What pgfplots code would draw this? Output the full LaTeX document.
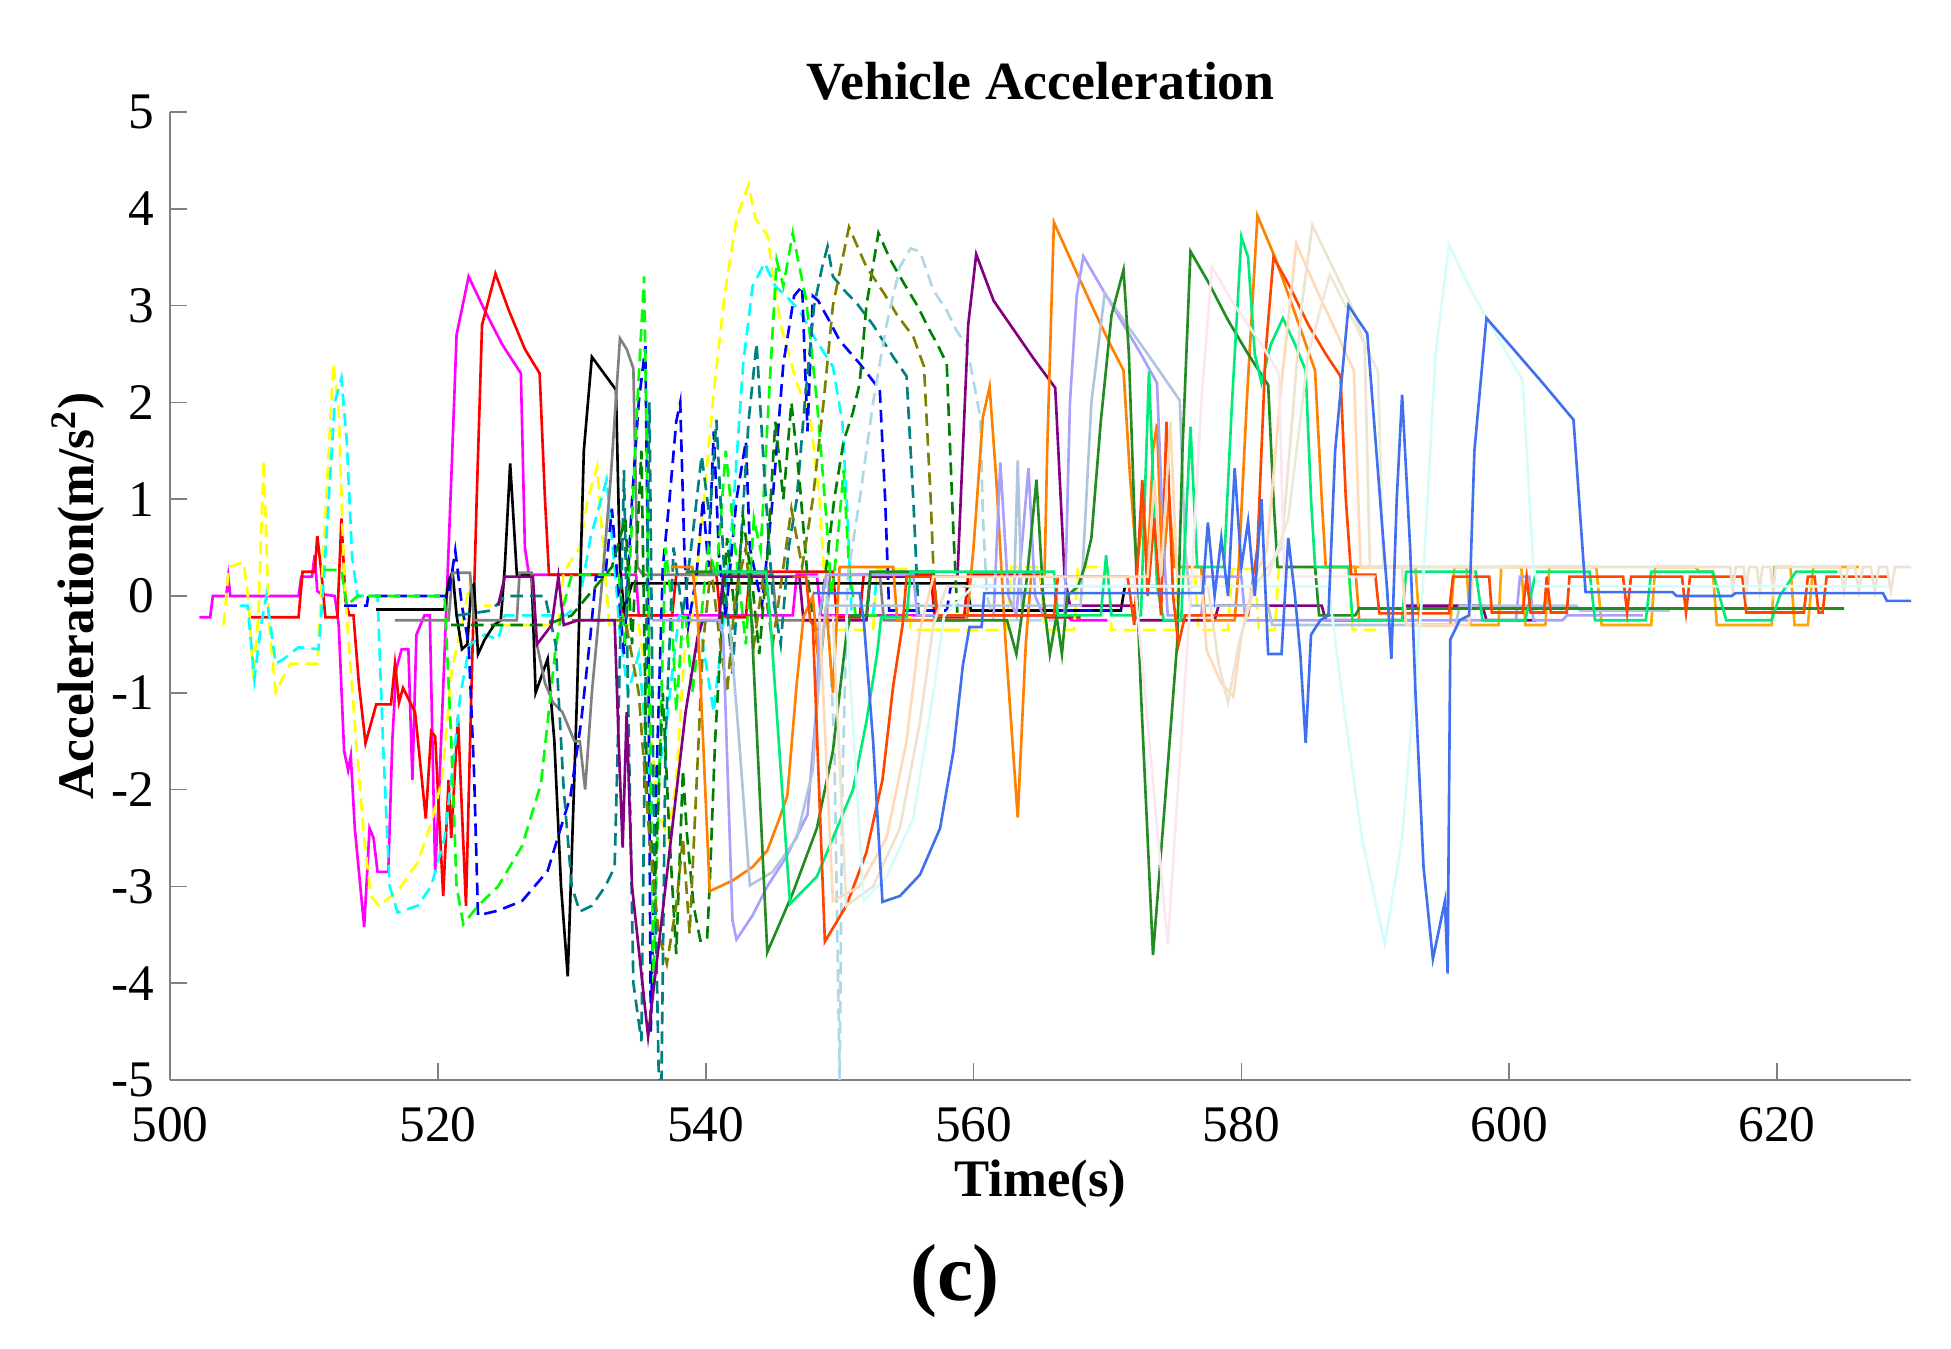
\documentclass[border=0pt]{standalone}
\usepackage{fontspec}
\setmainfont{Liberation Serif}
\usepackage{pgfplots}
\pgfplotsset{compat=1.18}
\definecolor{mmag}{RGB}{255,0,255}
\definecolor{mcyan}{RGB}{0,255,255}
\definecolor{myel}{RGB}{255,255,0}
\definecolor{mred}{RGB}{255,0,0}
\definecolor{mblue}{RGB}{0,0,255}
\definecolor{mgreen}{RGB}{0,255,0}
\definecolor{myorange}{RGB}{255,128,0}
\definecolor{lorange}{RGB}{255,165,0}
\definecolor{lav}{RGB}{168,160,250}
\definecolor{lsb}{RGB}{176,196,222}
\definecolor{forest}{RGB}{34,139,34}
\definecolor{spring}{RGB}{0,235,120}
\definecolor{ored}{RGB}{255,69,0}
\definecolor{royal}{RGB}{64,112,240}
\definecolor{peach}{RGB}{255,218,185}
\definecolor{awhite}{RGB}{236,228,208}
\definecolor{lcyan}{RGB}{215,252,252}
\definecolor{lblush}{RGB}{250,232,238}
\definecolor{eggshell}{RGB}{236,232,218}
\definecolor{teal2}{RGB}{0,128,128}
\definecolor{olive2}{RGB}{128,128,0}
\definecolor{dgreen}{RGB}{0,128,0}
\definecolor{lblue}{RGB}{173,216,230}
\definecolor{purp}{RGB}{128,0,128}
\definecolor{gray2}{RGB}{128,128,128}
\tikzset{sl/.style={line width=0.75pt},dl/.style={line width=0.75pt,dash pattern=on 3.6pt off 2pt}}
\begin{document}
\begin{tikzpicture}
\useasboundingbox (-17mm,-26.9mm) rectangle (178.1mm,108mm);
\begin{axis}[
  at={(0,0)}, anchor=south west,
  scale only axis, width=174.1mm, height=96.8mm,
  xmin=500, xmax=630, ymin=-5, ymax=5,
  axis x line*=bottom, axis y line*=left,
  xtick={500,520,540,560,580,600,620},
  ytick={-5,-4,-3,-2,-1,0,1,2,3,4,5},
  tick align=inside,
  major tick length=1.7mm,
  axis line style={draw=gray, line width=0.7pt},
  every tick/.style={gray, line width=0.5pt},
  /pgf/number format/assume math mode=true,
  ticklabel style={font=\fontsize{14.6}{15}\selectfont},
  xticklabel style={anchor=base, yshift=-6.2mm},
  yticklabel style={anchor=east, inner sep=0pt, xshift=-1.5mm},
  every axis title shift=0pt,
  title={Vehicle Acceleration},
  title style={font=\fontsize{15.3}{16}\selectfont\bfseries, at={(axis description cs:0.5,1)}, anchor=base, yshift=1.25mm},
  xlabel={Time(s)},
  xlabel style={font=\fontsize{15}{16}\selectfont\bfseries, at={(axis description cs:0.5,0)}, anchor=base, yshift=-11.7mm},
  ylabel={Acceleration(m/s\textsuperscript{2})},
  ylabel style={font=\fontsize{14.6}{16}\selectfont\bfseries, at={([xshift=-9.2mm]axis description cs:0,0.5)}, anchor=center},
  no markers,
]
% magenta
\addplot[sl,mmag] coordinates {(502.2,-0.22)(503.0,-0.22)(503.2,0)(504.2,0)(504.35,0.2)(504.5,0)(509.6,0)(509.8,0.2)(510.6,0.2)(510.8,0.42)(511.0,0.05)(511.3,0.02)(512.3,0)(512.6,-0.3)(513.0,-1.6)(513.3,-1.8)(513.5,-1.65)(513.8,-2.4)(514.5,-3.42)(514.9,-2.4)(515.2,-2.5)(515.5,-2.85)(516.3,-2.85)(516.6,-1.5)(516.9,-0.75)(517.3,-0.55)(517.8,-0.55)(518.1,-1.9)(518.4,-0.4)(519.0,-0.2)(519.4,-0.2)(519.8,-2.85)(520.1,-2.0)(520.5,-0.6)(521.0,1.2)(521.4,2.7)(522.3,3.3)(523.5,2.95)(524.8,2.6)(526.2,2.3)(526.5,0.5)(526.8,0.22)(534.8,0.22)(535.0,-0.2)(546.5,-0.2)(546.8,0.22)(548.3,0.22)(548.6,-0.2)(567.0,-0.2)(567.3,-0.25)(570,-0.25)};
% red
\addplot[sl,mred] coordinates {(506.0,-0.22)(509.6,-0.22)(509.9,0.25)(510.8,0.25)(511.0,0.62)(511.3,0.25)(511.6,-0.22)(512.5,-0.22)(512.8,0.8)(513.1,-0.05)(513.4,-0.2)(513.7,-0.2)(514.1,-0.9)(514.6,-1.52)(515.4,-1.12)(516.5,-1.12)(516.8,-0.7)(517.1,-1.1)(517.4,-0.95)(518.3,-1.2)(519.1,-2.3)(519.5,-1.4)(519.8,-1.45)(520.4,-3.1)(520.8,-1.9)(521.0,-2.5)(521.5,-1.25)(522.1,-3.2)(522.5,-1.0)(522.9,1.0)(523.3,2.8)(524.3,3.33)(525.3,2.95)(526.5,2.55)(527.6,2.3)(528.0,1.0)(528.3,0.22)(533.6,0.22)(533.9,-0.2)(537.5,-0.2)(537.8,0.22)(540.8,0.22)(541.1,-0.22)(543.0,-0.22)(543.3,0.25)(549.5,0.25)(549.8,-0.22)(551.5,-0.22)(551.8,0.22)(556.8,0.22)(557.1,-0.22)(559.3,-0.22)(559.6,0.22)(565.0,0.22)(565.3,-0.22)(568,-0.22)};
% yellow dashed A
\addplot[dl,myel] coordinates {(504.0,-0.3)(504.4,0.3)(505.5,0.35)(505.9,-0.1)(506.2,-0.85)(506.6,-0.2)(507.0,1.4)(507.4,-0.3)(507.9,-1.0)(508.4,-0.85)(509.0,-0.7)(511.0,-0.7)(511.4,0.3)(512.2,2.4)(512.6,1.9)(513.0,0.2)(513.3,-0.4)(513.9,-1.5)(514.5,-2.5)(515.0,-3.1)(515.6,-3.2)(517.0,-3.05)(518.5,-2.75)(519.5,-2.35)(520.3,-1.9)(520.7,-1.3)(521.0,-0.8)(521.3,-0.6)(521.8,-0.3)(522.4,0.15)(522.6,-0.1)(524.0,-0.1)};
% yellow dashed B
\addplot[dl,myel] coordinates {(524.5,-0.3)(529.0,-0.3)(529.4,0.25)(530.6,0.5)(531.2,1.0)(531.9,1.34)(532.4,0.4)(532.8,-0.3)(535.0,-0.3)(535.6,-0.9)(536.4,-2.2)(537.2,-2.5)(537.8,-1.9)(538.4,-0.6)(539.0,-0.2)(539.8,0.9)(540.6,2.1)(541.4,3.1)(542.3,3.9)(543.2,4.25)(543.7,3.9)(544.6,3.73)(545.6,2.8)(546.8,2.2)(547.8,1.85)(548.5,1.0)(548.9,0.1)(549.2,-0.35)(552.5,-0.35)(552.8,0.28)(555.0,0.28)(555.3,-0.35)(559.0,-0.35)};
% yellow dashed C
\addplot[dl,myel] coordinates {(556.5,-0.35)(562.5,-0.35)(562.8,0.3)(565.0,0.3)(565.3,-0.35)(567.5,-0.35)(567.8,0.3)(570,0.3)(570.3,-0.35)(575.0,-0.35)(575.3,0.3)(576.5,0.3)(576.8,-0.35)(579.0,-0.35)(579.3,0.28)(581,0.28)(581.3,-0.35)(582.5,-0.35)(582.8,0.3)(588,0.3)(588.3,-0.35)(590.2,-0.35)};
% cyan dashed A
\addplot[dl,mcyan] coordinates {(505.2,-0.1)(505.8,-0.1)(506.3,-0.86)(506.8,-0.3)(507.2,0.0)(507.5,-0.3)(507.9,-0.7)(508.5,-0.65)(509.6,-0.53)(511.1,-0.55)(511.5,0.2)(512.3,2.0)(512.8,2.25)(513.2,1.6)(513.6,0.4)(514.0,0.0)(515.5,0.0)(515.9,-1.5)(516.4,-3.0)(517.0,-3.27)(518.5,-3.2)(519.5,-3.0)(520.5,-2.5)(521.0,-1.9)(521.7,-1.0)(522.4,-0.5)(523.5,-0.4)(524.5,-0.45)(525.0,-0.2)(529.5,-0.2)(530.5,-0.1)(531.4,0.6)(532.6,1.2)(533.2,0.3)(533.6,-0.4)(534.2,-1.0)(535.0,-0.6)(536.0,-2.2)(537.0,-1.4)(538.0,-0.2)};
% cyan dashed B
\addplot[dl,mcyan] coordinates {(538.0,-0.2)(539.5,-0.25)(540.6,-1.2)(541.3,-0.3)(542.0,0.8)(542.8,2.4)(543.5,3.2)(544.4,3.44)(545.2,3.2)(546.0,3.1)(547.0,2.95)(548.2,2.65)(549.5,2.37)(550.2,1.8)(550.6,0.8)(550.9,-0.2)(552.5,-0.2)(552.8,0.25)(556,0.25)};
% black
\addplot[sl,black] coordinates {(515.4,-0.14)(520.5,-0.14)(520.8,0.15)(521.1,0.25)(521.4,-0.2)(521.8,-0.55)(522.2,-0.5)(522.5,0.1)(522.7,0.12)(523.0,-0.6)(523.5,-0.45)(524.2,-0.3)(524.7,-0.25)(525.0,0.3)(525.4,1.37)(525.9,0.22)(527.0,0.22)(527.3,-1.0)(528.2,-0.65)(528.7,-1.5)(529.2,-3.0)(529.7,-3.93)(530.4,-1.0)(530.9,1.5)(531.5,2.47)(532.4,2.3)(533.3,2.13)(533.6,0.3)(533.9,-0.15)(534.5,0.13)(559.5,0.13)(559.8,-0.15)(571.0,-0.15)(571.3,0.1)(575,0.1)};
% gray
\addplot[sl,gray2] coordinates {(516.8,-0.25)(520.8,-0.25)(521.1,0.24)(522.4,0.24)(522.7,-0.25)(525.9,-0.25)(526.1,0.24)(527.0,0.24)(527.4,-0.5)(528.0,-0.9)(528.6,-1.1)(529.3,-1.2)(530.2,-1.5)(530.6,-1.5)(531.0,-2.0)(531.5,-1.0)(532.3,0.2)(532.9,1.2)(533.6,2.66)(534.1,2.55)(534.6,2.35)(534.9,0.3)(535.3,0.22)(545.0,0.22)(545.3,-0.25)(549,-0.25)(549.3,0.22)(553,0.22)(553.3,-0.25)(556,-0.25)};
% blue dashed A
\addplot[dl,mblue] coordinates {(513.0,-0.1)(514.7,-0.1)(514.8,0.0)(520.8,0.0)(521.3,0.47)(521.8,-0.1)(522.3,-0.5)(522.7,-1.8)(523.0,-3.3)(524.5,-3.25)(526.3,-3.15)(528.2,-2.84)(529.9,-2.07)(530.7,-1.3)(531.4,-0.4)(531.8,0.2)(532.5,0.2)(533.0,0.9)(533.4,0.2)(533.9,-0.6)(534.5,1.0)(535.0,2.0)(535.5,2.58)(535.7,0.0)(535.9,-4.5)(536.3,-2.0)(536.8,0.3)(537.3,1.0)(537.8,1.8)(538.1,2.0)(538.4,0.5)(538.7,-0.3)(539.3,0.2)(539.8,1.0)(540.2,0.3)(540.6,1.7)(541.0,0.4)(541.5,-0.2)};
% blue dashed B
\addplot[dl,mblue] coordinates {(541.5,-0.2)(542.3,1.0)(543.0,1.6)(543.3,0.5)(544.2,-0.1)(545.0,1.0)(545.8,2.4)(546.6,3.1)(547.2,3.2)(547.6,1.7)(548.0,3.1)(548.4,3.05)(549.2,2.85)(550.0,2.64)(551.5,2.4)(553.0,2.13)(553.4,1.0)(553.7,-0.15)(558,-0.15)(558.3,0.1)(566,0.1)(566.3,-0.15)(571,-0.15)};
% green dashed A
\addplot[dl,mgreen] coordinates {(511.5,0.27)(512.8,0.27)(513.2,-0.1)(514.0,0.0)(520.5,0.0)(521.0,-1.5)(521.4,-3.0)(521.9,-3.39)(523.0,-3.2)(524.5,-3.0)(526.3,-2.58)(527.7,-1.94)(528.2,-1.3)(528.8,-0.53)(529.3,-0.14)(530,0.22)(533.5,0.22)(534.0,-0.5)(534.4,0.5)(534.9,2.0)(535.4,3.3)(535.6,1.5)(535.8,-1.0)(536.1,-4.0)(536.5,-2.0)(537.0,0.5)(537.4,0.0)(537.8,-1.2)(538.3,-0.2)};
% green dashed B
\addplot[dl,mgreen] coordinates {(538.5,-0.2)(539.0,-1.0)(539.6,-0.3)(540.2,0.5)(540.8,0.2)(541.5,1.5)(542.2,0.5)(543.0,-0.5)(543.6,0.8)(544.1,0.47)(544.7,2.0)(545.3,3.47)(545.8,3.2)(546.5,3.75)(547.0,3.4)(547.5,3.06)(548.3,2.02)(549.0,0.82)(549.4,0.0)(549.8,0.5)(550.3,1.3)(550.7,0.3)(551.2,-0.2)(553.5,-0.2)};
% teal dashed
\addplot[dl,teal2] coordinates {(521.5,-0.2)(524.0,-0.15)(525.0,0.0)(528.0,0.0)(528.8,-0.5)(529.4,-2.0)(530.0,-3.0)(530.6,-3.26)(531.5,-3.2)(532.5,-3.0)(533.2,-2.8)(533.5,-1.2)(533.9,1.3)(534.2,-1.0)(534.6,-4.0)(535.2,-4.6)(535.5,-1.0)(535.8,2.0)(536.1,-2.0)(536.5,-5.0)(536.7,-5.0)(537.0,-1.5)(537.6,0.5)(538.3,-0.2)(539.0,0.6)(539.7,1.45)(540.3,0.8)(540.8,1.82)(541.4,0.2)(542.0,-0.8)(542.6,0.5)(543.2,1.8)(543.8,2.61)(544.4,1.2)(545.0,0.0)(545.6,-0.5)(546.2,0.5)(546.8,1.0)(547.4,2.0)(548.1,3.0)(548.7,3.4)(549.1,3.61)(549.5,3.3)(550.4,3.15)(551.3,3.02)(552.5,2.8)(554.0,2.47)(555.0,2.27)(555.5,1.0)(555.9,-0.2)(558,-0.2)};
% dark green dashed
\addplot[dl,dgreen] coordinates {(521.0,-0.3)(528.0,-0.3)(530,-0.2)(533,0.3)(534.0,0.8)(534.5,-0.5)(535.2,1.5)(535.6,-2.0)(536.2,-3.0)(536.8,-1.0)(537.3,-2.5)(537.8,-3.7)(538.3,-1.8)(538.6,-2.46)(539.1,-3.2)(539.6,-3.56)(540.1,-3.56)(540.3,-2.98)(540.7,-1.5)(541.2,-0.3)(541.6,0.6)(542.2,-0.2)(542.8,0.8)(543.5,0.1)(544.0,-0.6)(544.6,0.4)(545.2,1.8)(545.8,1.0)(546.4,2.0)(547.0,1.2)(547.6,0.2)(548.3,-0.5)(549.0,0.3)(549.6,1.0)(550.3,1.6)(551.0,1.9)(551.5,2.2)(552.0,3.0)(552.9,3.75)(553.8,3.47)(554.8,3.23)(555.8,3.0)(556.7,2.75)(557.3,2.6)(558.0,2.4)(558.5,0.65)(558.8,-0.2)(560,-0.2)};
% olive dashed
\addplot[dl,olive2] coordinates {(530,-0.25)(534,-0.25)(535.0,-1.0)(535.8,-2.5)(536.5,-3.5)(537.1,-3.8)(537.8,-3.2)(538.3,-2.5)(538.8,-3.49)(539.3,-2.0)(539.8,-0.5)(540.4,0.3)(541.0,-0.4)(541.6,-1.0)(542.2,0.0)(543.0,0.5)(543.6,-0.5)(544.3,0.2)(545.0,-0.5)(545.6,0.1)(546.4,0.9)(547.2,0.3)(548.0,1.0)(548.8,2.0)(549.5,3.0)(550.7,3.81)(552.0,3.4)(553.3,3.13)(554.3,2.9)(555.5,2.68)(556.3,2.37)(556.8,1.0)(557.0,0.3)(557.3,-0.25)(559,-0.25)};
% light blue dashed
\addplot[dl,lblue] coordinates {(546,0.2)(549.0,0.2)(549.6,-1.5)(550.0,-5.0)(550.2,-2.0)(550.6,0.2)(551.5,1.0)(552.5,2.0)(553.5,2.8)(554.5,3.4)(555.3,3.59)(556.0,3.56)(557.0,3.16)(558.0,2.95)(558.7,2.75)(559.5,2.58)(560.5,1.85)(560.7,0.82)(561.0,0.0)(561.5,-0.25)(566,-0.25)};
% purple
\addplot[sl,purp] coordinates {(524.5,-0.1)(525.0,0.2)(527.1,0.2)(527.4,-0.5)(528.5,-0.3)(529.0,0.2)(529.4,-0.3)(530.5,-0.25)(533.2,-0.25)(533.5,-1.5)(533.8,-2.6)(534.1,-1.2)(534.5,-3.0)(535.7,-4.55)(536.5,-3.6)(537.5,-2.4)(538.5,-1.2)(539.4,-0.42)(539.8,-0.25)(541.0,-0.25)(541.3,0.2)(547.0,0.2)(547.3,-0.25)(552,-0.25)(552.3,0.2)(558.8,0.2)(559.2,1.5)(559.6,2.8)(560.2,3.53)(561.5,3.05)(563.0,2.75)(564.5,2.45)(566.1,2.15)(566.8,0.2)(567.2,-0.1)(572,-0.1)(572.3,-0.25)(578,-0.25)(578.3,-0.1)(586,-0.1)(586.3,-0.25)(592,-0.25)(592.3,-0.1)(598,-0.1)(598.3,-0.25)(602,-0.25)};
% orange A
\addplot[sl,myorange] coordinates {(537.5,0.3)(539.0,0.3)(539.4,-0.22)(540.3,-3.05)(542.0,-2.94)(543.5,-2.8)(544.6,-2.63)(545.5,-2.3)(546.1,-2.06)(546.8,-0.9)(547.3,-0.22)(548.0,0.0)(548.5,-0.8)(549.0,-0.1)(549.5,-1.0)(550.0,0.3)(554.0,0.3)(554.3,-0.25)(559.5,-0.25)(560.0,0.5)(560.7,1.85)(561.2,2.16)(561.7,1.2)(562.4,-0.5)(563.3,-2.29)(563.9,-0.5)(564.3,0.2)(565.3,0.2)(565.5,1.5)(566.0,3.86)(567.5,3.4)(569.0,2.95)(570.2,2.6)(571.2,2.33)(571.7,1.2)(572.2,0.3)(572.7,0.9)(573.0,0.3)(573.4,1.5)(573.7,1.78)(574.1,0.2)(574.6,1.0)(575.0,0.3)(577,0.3)(577.3,-0.25)(579.5,-0.25)(579.8,0.3)(580.4,2.0)(581.2,3.93)(582.5,3.5)(583.8,3.0)(585.5,2.33)(586.0,1.0)(586.3,0.3)(588.5,0.3)(588.8,-0.25)(593,-0.25)};
% light orange square waves
\addplot[sl,lorange] coordinates {(586,0.3)(593.0,0.3)(593.3,-0.3)(595.6,-0.3)(595.9,0.3)(596.8,0.3)(597.1,-0.3)(599.2,-0.3)(599.4,0.3)(600.9,0.3)(601.2,-0.3)(602.7,-0.3)(603.0,0.3)(606.5,0.3)(606.9,-0.3)(610.6,-0.3)(610.9,0.3)(613.9,0.3)(614.2,0.25)(615.2,0.25)(615.5,-0.3)(619.6,-0.3)(619.8,0.3)(621.0,0.3)(621.3,-0.3)(622.3,-0.3)(622.7,0.3)(626.1,0.3)};
% lavender
\addplot[sl,lav] coordinates {(536,-0.25)(541.0,-0.25)(541.3,-0.4)(542.0,-3.35)(542.3,-3.55)(543.5,-3.3)(544.6,-3.0)(546.0,-2.7)(547.6,-2.26)(548.3,-1.1)(548.5,-0.2)(549,0.22)(555.5,0.22)(555.8,-0.2)(561.5,-0.2)(562.0,1.38)(562.6,0.0)(563.2,-0.2)(563.6,0.5)(564.1,1.32)(564.6,0.0)(565.2,-0.2)(566.8,-0.2)(567.2,2.0)(567.7,3.1)(568.2,3.51)(569.5,3.2)(571.0,2.85)(572.5,2.5)(573.7,2.2)(574.2,0.5)(574.5,-0.2)(577,-0.2)(577.3,0.2)(580,0.2)(580.3,-0.25)(600.5,-0.25)(600.8,0.2)(601.5,0.2)(601.8,-0.25)(604,-0.25)(604.3,-0.2)(610,-0.2)};
% light steel blue
\addplot[sl,lsb] coordinates {(541.8,-0.3)(542.5,-1.5)(543.3,-2.99)(545.0,-2.85)(546.8,-2.5)(548.0,-1.8)(548.6,-0.6)(549,-0.1)(563,-0.1)(563.3,1.4)(563.6,-0.1)(568.0,-0.1)(568.8,2.0)(569.8,3.13)(571.2,2.85)(573.0,2.5)(575.4,2.02)(575.8,0.5)(576.2,-0.1)(582,-0.1)(582.3,-0.3)(596,-0.3)(596.3,-0.1)(605,-0.1)(605.3,-0.15)(612,-0.15)};
% forest green
\addplot[sl,forest] coordinates {(538.5,0.25)(543.2,0.25)(543.4,-0.2)(544.6,-3.68)(546.5,-3.07)(548.3,-2.4)(549.5,-1.6)(550.5,-0.41)(550.8,-0.2)(552,-0.2)(552.3,0.25)(557.0,0.25)(557.3,-0.25)(562.5,-0.25)(563.2,-0.6)(564.0,0.2)(564.7,1.2)(565.2,0.0)(565.7,-0.6)(566.2,-0.2)(566.6,-0.6)(567.0,0.0)(567.8,0.1)(568.3,0.3)(568.8,0.6)(569.5,1.8)(570.3,2.9)(571.2,3.37)(571.6,2.5)(572.2,0.07)(572.5,-1.0)(573.4,-3.71)(574.4,-1.94)(575.2,-0.5)(575.6,1.5)(576.2,3.56)(577.5,3.25)(579.0,2.85)(580.5,2.5)(582.0,2.18)(582.4,1.0)(582.7,0.3)(585.5,0.3)(585.8,-0.2)(588.5,-0.2)(588.8,-0.13)(625,-0.13)};
% spring green
\addplot[sl,spring] coordinates {(540.5,0.25)(544.5,0.25)(544.8,-0.2)(546.3,-3.18)(548.3,-2.9)(551.0,-2.0)(552.0,-1.3)(552.8,-0.6)(553.1,-0.22)(555,-0.22)(555.3,0.25)(566,0.25)(566.3,-0.2)(569.5,-0.2)(569.9,0.42)(570.3,-0.2)(572.5,-0.2)(573.1,2.32)(573.7,0.1)(574.2,-0.25)(575.5,-0.25)(576.2,1.75)(576.7,0.3)(578.7,0.3)(579.3,2.0)(580.0,3.71)(580.5,3.5)(581.0,2.5)(581.5,2.2)(582.2,2.6)(583.1,2.87)(584.0,2.6)(584.8,2.33)(585.2,1.0)(585.5,0.3)(588,0.3)(588.3,-0.25)(592,-0.25)(592.3,0.25)(597.5,0.25)(598.0,-0.25)(601.2,-0.25)(602.0,0.25)(606.0,0.25)(606.4,-0.25)(610.2,-0.25)(610.6,0.25)(615.2,0.25)(616.2,-0.25)(619.6,-0.25)(620.2,0.0)(621.4,0.25)(624.5,0.25)};
% orange red
\addplot[sl,ored] coordinates {(546.5,0.2)(547.5,0.2)(547.8,-0.25)(548.0,-0.3)(548.9,-3.57)(550.5,-3.2)(552.0,-2.65)(553.2,-1.9)(554.0,-0.93)(554.7,-0.3)(555,0.2)(557,0.2)(557.3,-0.2)(566,-0.2)(566.3,0.2)(571.5,0.2)(572.0,-0.3)(572.6,1.2)(573.0,0.0)(573.5,0.8)(574.0,-0.2)(574.4,1.8)(574.9,0.0)(575.3,-0.5)(575.8,-0.2)(580.5,-0.2)(581.2,0.5)(581.8,2.5)(582.4,3.5)(583.6,3.2)(585.0,2.8)(586.3,2.5)(587.4,2.27)(587.8,1.0)(588.2,0.22)(590,0.22)(590.3,-0.18)(595.5,-0.18)(595.8,0.2)(598.5,0.2)(598.7,-0.17)(601.0,-0.17)(601.3,0.2)(601.6,-0.17)(602.6,-0.17)(602.8,0.2)(603.1,-0.17)(604.3,-0.17)(604.5,0.2)(608.5,0.2)(608.8,-0.17)(609.1,0.2)(612.9,0.2)(613.2,-0.17)(613.5,0.2)(617.4,0.2)(617.7,-0.17)(622.0,-0.17)(622.3,0.2)(622.8,0.2)(623.1,-0.17)(623.4,-0.17)(623.7,0.2)(628.2,0.2)};
% peach
\addplot[sl,peach] coordinates {(548.5,-0.2)(549.5,-3.15)(551.5,-3.0)(553.5,-2.5)(555.0,-1.5)(556.0,-0.35)(557,0.2)(573,0.2)(573.5,1.2)(574.0,0.2)(574.7,1.8)(575.2,0.2)(577.0,0.2)(577.4,-0.56)(578.5,-0.9)(579.4,-1.04)(580.0,-0.4)(581.0,0.2)(581.9,0.47)(583.0,2.2)(584.1,3.64)(585.5,3.2)(587.0,2.75)(588.4,2.33)(588.9,0.3)(592,0.3)(592.3,-0.3)(597,-0.3)(597.3,0.3)(604,0.3)};
% antique white
\addplot[sl,awhite] coordinates {(549.5,-0.2)(550.5,-3.2)(552.5,-3.0)(554.5,-2.4)(556.0,-1.3)(557.0,-0.3)(558,0.1)(577.5,0.1)(578.3,-0.7)(579.0,-1.1)(579.8,-0.5)(581.0,0.1)(583.0,0.5)(584.5,3.0)(585.3,3.83)(586.8,3.4)(588.2,3.0)(589.2,2.6)(589.6,0.3)(616.5,0.3)(616.7,0.05)(616.9,0.3)(617.5,0.3)(617.7,0.05)(617.9,0.3)(618.5,0.3)(618.7,0.05)(618.9,0.3)(619.5,0.3)(619.7,0.05)(619.9,0.3)(624.7,0.3)(625.0,0.05)(625.3,0.3)(625.8,0.3)(626.1,0.05)(626.4,0.3)(627.0,0.3)(627.3,0.05)(627.6,0.3)(628.2,0.3)(628.5,0.05)(628.8,0.3)(630,0.3)};
% light cyan
\addplot[sl,lcyan] coordinates {(550.5,-0.2)(551.8,-3.15)(553.5,-2.9)(555.5,-2.3)(557.0,-1.0)(557.8,-0.2)(560,0.1)(586.5,0.1)(587.5,-1.0)(589.0,-2.5)(590.7,-3.6)(592.0,-2.5)(593.5,0.0)(594.5,2.5)(595.5,3.63)(597.0,3.2)(599.0,2.7)(601.0,2.23)(601.8,0.3)(602.2,0.1)(628.4,0.1)};
% lavender blush
\addplot[sl,lblush] coordinates {(572,0.2)(572.8,-1.0)(574.5,-3.6)(575.5,-1.5)(576.3,0.2)(577.0,2.0)(577.8,3.4)(579.5,3.0)(581.5,2.6)(582.8,2.3)(583.2,0.2)(590,0.2)};
% eggshell
\addplot[sl,eggshell] coordinates {(582,0.2)(583.5,0.8)(585,2.5)(586.6,3.32)(588.5,2.8)(590.2,2.32)(590.6,0.3)(600,0.3)};
% royal blue
\addplot[sl,royal] coordinates {(548,0.03)(551.5,0.03)(551.8,-0.25)(552.5,-1.5)(553.2,-3.16)(554.5,-3.1)(556.0,-2.88)(557.5,-2.4)(558.5,-1.6)(559.2,-0.72)(559.7,-0.32)(560.6,-0.32)(560.8,0.03)(577.1,0.03)(577.5,0.76)(578.0,0.0)(578.5,0.6)(579.0,0.0)(579.5,1.32)(580.0,0.3)(580.5,0.77)(581.0,0.0)(581.5,1.0)(582.0,-0.6)(583.0,-0.6)(583.5,0.6)(584.0,0.0)(584.4,-0.6)(584.8,-1.52)(585.2,-0.4)(585.9,-0.25)(586.5,-0.2)(587.0,1.5)(588.0,3.0)(589.4,2.71)(590.9,0.03)(591.2,-0.65)(591.6,1.0)(592.0,2.08)(592.6,0.5)(593.0,-1.0)(593.6,-2.8)(594.3,-3.75)(595.2,-3.15)(595.4,-3.9)(595.6,-0.45)(596.3,-0.25)(597.0,-0.2)(597.4,1.5)(598.3,2.87)(600.0,2.6)(602.5,2.2)(604.8,1.82)(605.7,0.04)(612.2,0.04)(612.5,0.0)(616.6,0.0)(616.9,0.03)(627.9,0.03)(628.2,-0.05)(630,-0.05)};
\end{axis}
\node[font=\fontsize{23}{24}\selectfont\bfseries] at (78.5mm,-20.15mm) {(c)};
\end{tikzpicture}
\end{document}
